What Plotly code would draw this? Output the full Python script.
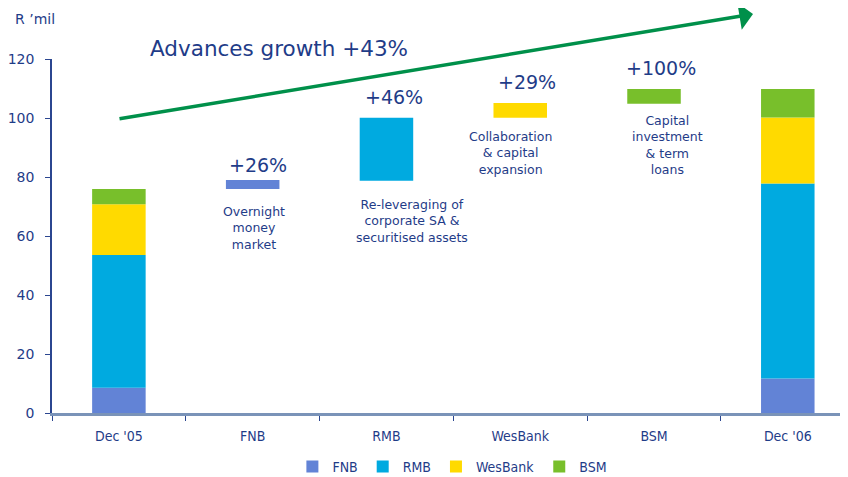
import plotly.graph_objects as go

categories = ["Dec '05", "FNB", "RMB", "WesBank", "BSM", "Dec '06"]
series = ["FNB", "RMB", "WesBank", "BSM"]
colors = ["#6283D6", "#00AAE0", "#FFDA00", "#78BF2B"]

dec05 = [8.6, 45.0, 17.2, 5.1]
dec06 = [11.7, 66.1, 22.4, 9.6]
bridge_base = [75.9, 78.7, 100.1, 104.8]
bridge_top = [79.0, 100.1, 105.1, 109.8]
growth_labels = ["+26%", "+46%", "+29%", "+100%"]
driver_labels = ["Overnight<br>money<br>market",
                 "Re-leveraging of<br>corporate SA &<br>securitised assets",
                 "Collaboration<br>& capital<br>expansion",
                 "Capital<br>investment<br>& term<br>loans"]
y_ticks = [0, 20, 40, 60, 80, 100, 120]

TXT = "#1F3C88"
FONT = "DejaVu Sans"
COND = "DejaVu Sans Condensed, DejaVu Sans"

fig = go.Figure()
c05 = 0
c06 = 0
for i, s in enumerate(series):
    fig.add_trace(go.Bar(
        name=s,
        x=[categories[0], categories[i + 1], categories[5]],
        y=[dec05[i], bridge_top[i] - bridge_base[i], dec06[i]],
        base=[c05, bridge_base[i], c06],
        marker=dict(color=colors[i], line=dict(width=0)),
    ))
    c05 += dec05[i]
    c06 += dec06[i]

# page body has an 8px margin: the plot area is laid out in page pixels
OFF = 8
PL, PR, PT, PB = 52, 848, 59, 413  # plot area in page pixels
W, H = 848 - OFF, 477 - OFF

def px(x):
    return (x - PL) / (PR - PL)

def py(y):
    return (PB - y) / (PB - PT)

annotations = []
g_pos = [(84.1, 5), (107.1, 8), (112.2, 7), (116.9, 7)]
d_pos = [(62.7, 1), (65.1, 26), (88.1, -10), (90.7, 13)]
for i in range(4):
    annotations.append(dict(x=categories[i + 1], y=g_pos[i][0], xref="x", yref="y",
                            xshift=g_pos[i][1], text=growth_labels[i], showarrow=False,
                            xanchor="center", yanchor="middle",
                            font=dict(family=FONT, size=19, color=TXT)))
    annotations.append(dict(x=categories[i + 1], y=d_pos[i][0], xref="x", yref="y",
                            xshift=d_pos[i][1], text=driver_labels[i], showarrow=False,
                            xanchor="center", yanchor="middle", align="center",
                            font=dict(family=FONT, size=12.5, color=TXT)))

annotations.append(dict(x=px(279), y=py(48), xref="paper", yref="paper",
                        xanchor="center", yanchor="middle",
                        text="Advances growth +43%", showarrow=False,
                        font=dict(family=FONT, size=21.5, color=TXT)))
annotations.append(dict(x=px(13), y=py(19), xref="paper", yref="paper",
                        xanchor="left", yanchor="middle", text="R ’mil", showarrow=False,
                        font=dict(family=FONT, size=14, color=TXT)))
# growth arrow
annotations.append(dict(x=px(753), y=py(14), xref="paper", yref="paper",
                        ax=118 - 753, ay=119 - 14, axref="pixel", ayref="pixel",
                        text="", showarrow=True, arrowhead=1, arrowsize=1.3,
                        arrowwidth=3.5, arrowcolor="#00904A"))

fig.update_layout(
    width=W, height=H,
    margin=dict(l=PL - OFF, r=W - (PR - OFF), t=PT - OFF, b=H - (PB - OFF), autoexpand=False),
    barmode="overlay", bargap=0.6,
    plot_bgcolor="white", paper_bgcolor="white",
    font=dict(family=FONT, color=TXT),
    showlegend=True,
    legend=dict(orientation="h", x=0.503, xanchor="center", y=py(467),
                yanchor="middle", font=dict(family=COND, size=14, color=TXT),
                itemwidth=30, traceorder="normal", tracegroupgap=0),
    annotations=annotations,
    xaxis=dict(type="category", categoryorder="array", categoryarray=categories,
               range=[-0.5, 5.45], showline=True, linecolor="#7A93B8", linewidth=2.5,
               ticks="outside", tickson="boundaries", ticklen=5, tickcolor="#2B4690",
               tickfont=dict(family=COND, size=14, color=TXT), ticklabelstandoff=8,
               showgrid=False, zeroline=False, automargin=False),
    yaxis=dict(range=[0, 120], tickvals=y_ticks, showline=True, linecolor="#2B4690",
               linewidth=1.5, ticks="outside", ticklen=5, tickcolor="#2B4690",
               tickfont=dict(family=FONT, size=14, color=TXT), ticklabelstandoff=8,
               showgrid=False, zeroline=False, automargin=False),
)

fig.write_html("out.html")
